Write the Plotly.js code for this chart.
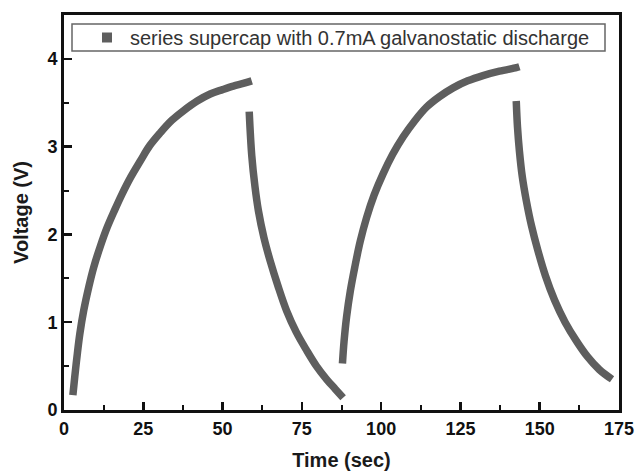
<!DOCTYPE html>
<html>
<head>
<meta charset="utf-8">
<script src="https://cdn.plot.ly/plotly-3.0.1.min.js"></script>
<style>html,body{margin:0;padding:0;background:#fff;}#chart{width:638px;height:475px;}</style>
</head>
<body>
<div id="chart"></div>
<script>
// Charge / discharge segments (time in s, voltage in V)
const charge1T = [2.8, 3.4, 4.2, 5.0, 6.2, 7.8, 9.4, 11.5, 13.6, 16.0, 18.3, 21.0, 24.1, 27.0, 30.4, 34.0, 37.7, 42.0, 46.1, 50.0, 53.4, 56.5, 59.2];
const charge1V = [0.17, 0.38, 0.64, 0.87, 1.13, 1.40, 1.63, 1.87, 2.08, 2.28, 2.46, 2.65, 2.84, 3.01, 3.16, 3.30, 3.41, 3.52, 3.60, 3.65, 3.69, 3.72, 3.75];
const discharge1T = [58.4, 59.2, 60.2, 61.3, 63.0, 65.0, 67.5, 70.2, 73.2, 76.5, 79.6, 82.8, 85.5, 88.0];
const discharge1V = [3.40, 2.90, 2.55, 2.27, 1.97, 1.70, 1.41, 1.13, 0.89, 0.68, 0.50, 0.35, 0.24, 0.14];
const charge2T = [87.8, 88.3, 89.1, 90.3, 91.7, 93.4, 95.4, 97.8, 100.6, 103.6, 106.9, 110.5, 114.3, 118.4, 122.7, 127.3, 132.1, 137.3, 142.6, 143.6];
const charge2V = [0.53, 0.78, 1.06, 1.36, 1.63, 1.92, 2.19, 2.45, 2.69, 2.91, 3.11, 3.29, 3.45, 3.57, 3.67, 3.75, 3.81, 3.86, 3.90, 3.91];
const discharge2T = [142.6, 143.0, 143.6, 144.5, 145.8, 147.4, 149.4, 151.8, 154.7, 158.0, 161.5, 165.0, 168.8, 172.8];
const discharge2V = [3.52, 3.22, 2.95, 2.66, 2.38, 2.10, 1.82, 1.53, 1.25, 1.00, 0.79, 0.61, 0.46, 0.35];
const legendLabel = "series supercap with 0.7mA galvanostatic discharge";
const xTicks = [0, 25, 50, 75, 100, 125, 150, 175];
const yTicks = [0, 1, 2, 3, 4];

const curveColor = "#5e5e5e";
const seg = (x, y) => ({x: x, y: y, type: "scatter", mode: "lines", showlegend: false,
  line: {color: curveColor, width: 7.5, shape: "spline", smoothing: 1}, hoverinfo: "skip"});

const traces = [
  seg(charge1T, charge1V),
  seg(discharge1T, discharge1V),
  seg(charge2T, charge2V),
  seg(discharge2T, discharge2V),
  {x: [null], y: [null], type: "scatter", mode: "markers", name: legendLabel,
   marker: {symbol: "square", size: 10, color: curveColor}}
];

const fontFam = "Liberation Sans, Arial, sans-serif";
const M = {l: 64, r: 19, t: 15, b: 65};
const PW = 638 - M.l - M.r, PH = 475 - M.t - M.b;
const px2x = p => (p - M.l) / PW;
const px2y = p => (475 - M.b - p) / PH;
const tickFont = {family: fontFam, size: 18, weight: "bold", color: "#111"};
const titleFont = {family: fontFam, size: 20, weight: "bold", color: "#1a1a1a"};
const layout = {
  width: 638, height: 475,
  margin: M,
  paper_bgcolor: "#fff", plot_bgcolor: "#fff",
  font: {family: fontFam, color: "#222"},
  showlegend: true,
  legend: {x: px2x(84), y: px2y(37.5), xanchor: "left", yanchor: "middle",
    bgcolor: "rgba(0,0,0,0)", borderwidth: 0, itemwidth: 36,
    font: {family: fontFam, size: 20, color: "#333"}},
  shapes: [{type: "rect", xref: "paper", yref: "paper", layer: "below",
    x0: px2x(72), x1: px2x(605), y0: px2y(51), y1: px2y(24),
    line: {color: "#666", width: 1.5}, fillcolor: "#fff"}],
  xaxis: {
    range: [0, 175], tickvals: xTicks, ticktext: xTicks.map(v => "<b>" + v + "</b>"),
    ticks: "inside", ticklen: 8, tickwidth: 2.5, tickcolor: "#111",
    minor: {dtick: 12.5, tick0: 0, ticks: "inside", ticklen: 5, tickwidth: 2, tickcolor: "#111", showgrid: false},
    showline: true, linewidth: 3, linecolor: "#111", mirror: true,
    showgrid: false, zeroline: false,
    tickfont: tickFont,
    title: {text: "Time (sec)", font: titleFont, standoff: 16}
  },
  yaxis: {
    range: [0, 4.5], tickvals: yTicks, ticktext: yTicks.map(v => "<b>" + v + "</b>"),
    ticks: "inside", ticklen: 8, tickwidth: 2.5, tickcolor: "#111",
    minor: {dtick: 0.5, tick0: 0, ticks: "inside", ticklen: 5, tickwidth: 2, tickcolor: "#111", showgrid: false},
    showline: true, linewidth: 3, linecolor: "#111", mirror: true,
    showgrid: false, zeroline: false,
    tickfont: tickFont,
    title: {text: "Voltage (V)", font: titleFont, standoff: 14}
  }
};

Plotly.newPlot("chart", traces, layout, {displayModeBar: false, staticPlot: true});
</script>
</body>
</html>
